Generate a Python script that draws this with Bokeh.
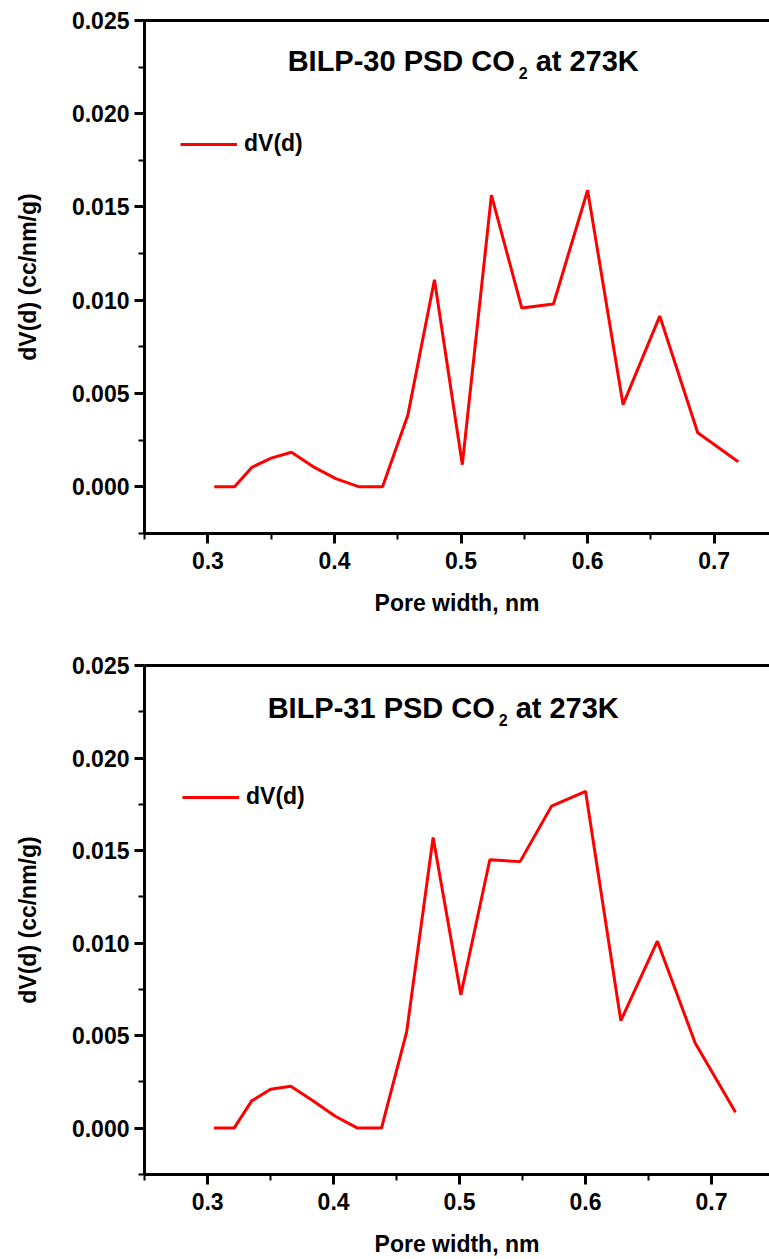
from bokeh.plotting import figure
from bokeh.models import (LinearAxis, SingleIntervalTicker, FixedTicker, PrintfTickFormatter,
                          Legend, LegendItem, Label, Range1d)
from bokeh.layouts import column
from bokeh.embed import file_html
from bokeh.resources import INLINE

# ---------------- data ----------------
pore_width = [0.305, 0.321, 0.335, 0.350, 0.366, 0.383, 0.401, 0.419, 0.438, 0.458,
              0.479, 0.501, 0.524, 0.548, 0.573, 0.600, 0.628, 0.657, 0.687, 0.719]
dv_bilp30 = [0.0, 0.0, 0.00105, 0.00153, 0.00185, 0.00108, 0.00043, 0.0, 0.0, 0.00385,
             0.0111, 0.00118, 0.01563, 0.00958, 0.0098, 0.0159, 0.0044, 0.00915, 0.00289, 0.00134]
dv_bilp31 = [0.0, 0.0, 0.00147, 0.0021, 0.00226, 0.0015, 0.00065, 0.0, 0.0, 0.0052,
             0.0157, 0.0072, 0.0145, 0.0144, 0.0174, 0.0182, 0.0058, 0.0101, 0.0046, 0.00086]
series_label = "dV(d)"
x_title = "Pore width, nm"
y_title = "dV(d) (cc/nm/g)"
titles = [("BILP-30 PSD CO", "2", "at 273K"), ("BILP-31 PSD CO", "2", "at 273K")]

FONT = "Liberation Sans"


def make_plot(xs, ys, title_parts, height, left, top, bottom, x_end, legend_loc, title_off):
    p = figure(width=769, height=height,
               x_range=Range1d(0.2499, x_end), y_range=Range1d(-0.00251, 0.025),
               output_backend="svg", toolbar_location=None,
               min_border_left=left, min_border_right=0, min_border_top=top,
               min_border_bottom=bottom)
    p.grid.visible = False
    p.outline_line_color = None
    p.background_fill_color = "white"
    p.border_fill_color = "white"

    p.xaxis.ticker = SingleIntervalTicker(interval=0.1, num_minor_ticks=2)
    p.yaxis.ticker = SingleIntervalTicker(interval=0.005, num_minor_ticks=2)
    p.xaxis.formatter = PrintfTickFormatter(format="%.1f")
    p.yaxis.formatter = PrintfTickFormatter(format="%.3f")
    for ax in (p.xaxis, p.yaxis):
        ax.axis_line_width = 3
        ax.axis_line_color = "black"
        ax.major_tick_line_width = 3
        ax.minor_tick_line_width = 2
        ax.major_tick_in = 0
        ax.minor_tick_in = 0
        ax.major_tick_out = 10
        ax.minor_tick_out = 6
        ax.major_label_text_font = FONT
        ax.major_label_text_font_style = "bold"
        ax.major_label_text_font_size = "23px"
        ax.major_label_text_color = "black"
        ax.axis_label_text_font = FONT
        ax.axis_label_text_font_style = "bold"
        ax.axis_label_text_font_size = "23px"
        ax.axis_label_text_color = "black"
    p.xaxis.axis_label = x_title
    p.yaxis.axis_label = y_title
    p.xaxis.major_label_standoff = 8
    p.yaxis.major_label_standoff = 5
    p.xaxis.axis_label_standoff = 18
    p.yaxis.axis_label_standoff = 28

    top_axis = LinearAxis(ticker=FixedTicker(ticks=[]), major_label_text_font_size="0px",
                          axis_line_width=3, major_tick_out=0, minor_tick_out=0,
                          major_tick_in=0, minor_tick_in=0)
    p.add_layout(top_axis, "above")

    r = p.line(xs, ys, line_color="#ff0000", line_width=3)

    legend = Legend(items=[LegendItem(label=series_label, renderers=[r])],
                    location=legend_loc, border_line_color=None, background_fill_alpha=0,
                    glyph_width=57, glyph_height=20, label_standoff=7, padding=0, margin=0,
                    label_text_font=FONT, label_text_font_style="bold",
                    label_text_font_size="23px", label_text_color="black")
    p.add_layout(legend)

    main, sub, rest = title_parts
    x0, ybase = title_off
    common = dict(x=0.25, y=0.025, text_font=FONT, text_font_style="bold",
                  text_color="black", text_baseline="alphabetic", text_align="left")
    p.add_layout(Label(x_offset=x0, y_offset=-ybase, text=main, text_font_size="29px", **common))
    p.add_layout(Label(x_offset=x0 + 231, y_offset=-ybase - 12, text=sub,
                       text_font_size="16px", **common))
    p.add_layout(Label(x_offset=x0 + 248, y_offset=-ybase, text=rest,
                       text_font_size="29px", **common))
    return p


p1 = make_plot(pore_width, dv_bilp30, titles[0], 640, 142, 20, 107, 0.7437, (36, 376), (143, 40))
p2 = make_plot(pore_width, dv_bilp31, titles[1], 619, 144, 25, 84, 0.746, (38, 364), (123, 42))

layout = column(p1, p2)
open("out.html", "w").write(file_html(layout, INLINE))
